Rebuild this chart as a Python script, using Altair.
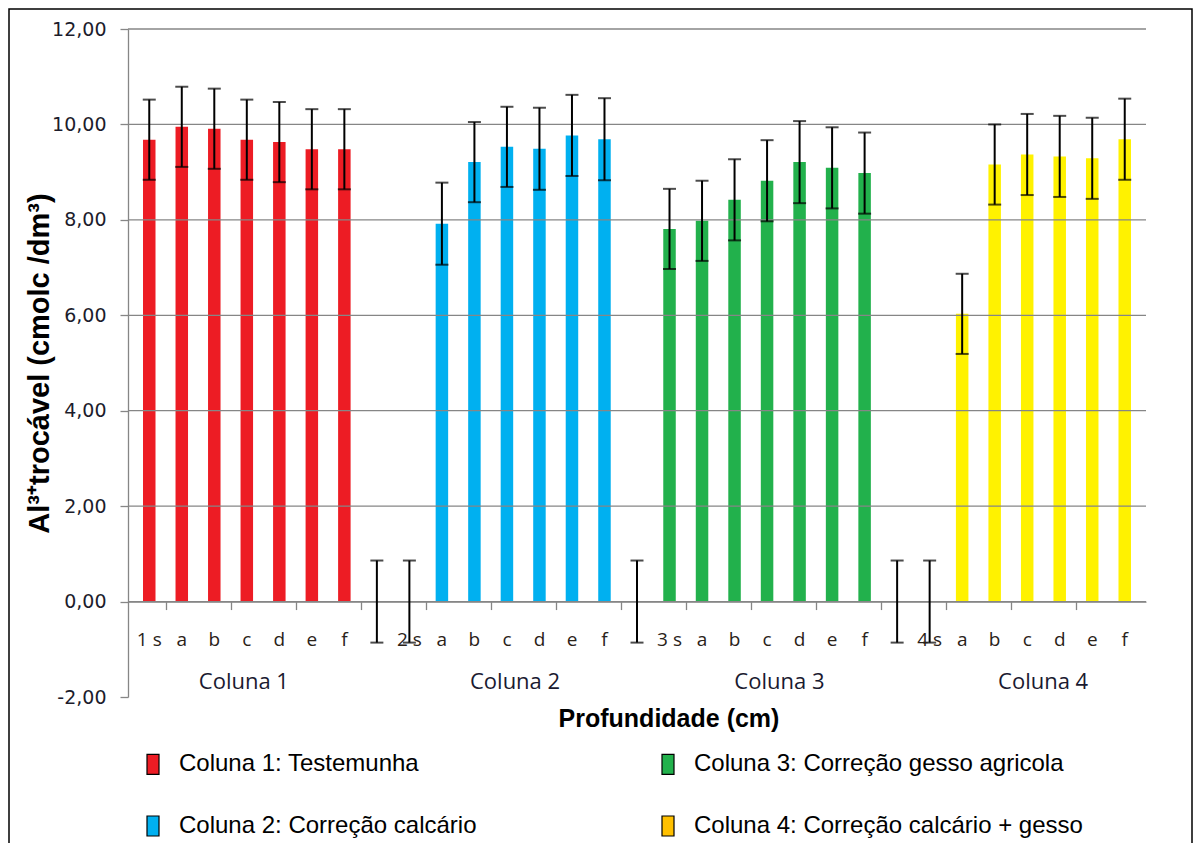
import altair as alt
import pandas as pd

# ---- data ----
cat_labels = ["1 s", "a", "b", "c", "d", "e", "f", "",
              "2 s", "a", "b", "c", "d", "e", "f", "",
              "3 s", "a", "b", "c", "d", "e", "f", "",
              "4 s", "a", "b", "c", "d", "e", "f"]
series = (["Coluna 1"] * 7 + ["", ""] + ["Coluna 2"] * 6 + [""] +
          ["Coluna 3"] * 7 + ["", ""] + ["Coluna 4"] * 6)
values = [9.68, 9.95, 9.91, 9.68, 9.63, 9.48, 9.48,
          0.0, 0.0,
          7.92, 9.21, 9.53, 9.49, 9.77, 9.69,
          0.0,
          7.81, 7.98, 8.42, 8.82, 9.21, 9.09, 8.98,
          0.0, 0.0,
          6.03, 9.16, 9.37, 9.33, 9.29, 9.69]
errors = [0.84, 0.84, 0.84, 0.84, 0.84, 0.84, 0.84,
          0.86, 0.86,
          0.86, 0.84, 0.84, 0.86, 0.85, 0.86,
          0.86,
          0.84, 0.84, 0.85, 0.85, 0.86, 0.85, 0.85,
          0.86, 0.86,
          0.84, 0.84, 0.85, 0.85, 0.85, 0.85]
group_names = ["Coluna 1", "Coluna 2", "Coluna 3", "Coluna 4"]
group_centers = [3.41, 11.75, 19.88, 27.99]
bar_colors = ["#ED1C24", "#00B0F0", "#22B14C", "#FFF200"]
legend_labels = ["Coluna 1: Testemunha", "Coluna 2: Correção calcário",
                 "Coluna 3: Correção gesso agricola", "Coluna 4: Correção calcário + gesso"]
legend_colors = ["#ED1C24", "#00B0F0", "#22B14C", "#FFC000"]
y_ticks = [-2, 0, 2, 4, 6, 8, 10, 12]
grid_vals = [0, 2, 4, 6, 8, 10, 12]

df = pd.DataFrame({
    "idx": list(range(len(values))),
    "label": cat_labels,
    "serie": series,
    "value": values,
    "err": errors,
})
df["pos"] = df["idx"] + 0.5
df["lo"] = df["value"] - df["err"]
df["hi"] = df["value"] + df["err"]

groups_df = pd.DataFrame({"g": group_names, "pos": group_centers})
legend_df = pd.DataFrame({"serie": legend_labels})
grid_df = pd.DataFrame({"g": grid_vals})

W, H = 1018, 668
GREY = "#868686"
xscale = alt.Scale(domain=[0, 31], nice=False, zero=False)
yscale = alt.Scale(domain=[-2, 12], nice=False, zero=False)

x_axis = alt.Axis(values=list(range(1, 31)), labels=False, ticks=True, tickSize=8,
                  tickColor=GREY, domainColor=GREY, domainWidth=1.3, tickWidth=1.3,
                  grid=False, offset=-95.43, title=None)
y_axis = alt.Axis(values=y_ticks, grid=False,
                  labelExpr="(datum.value < 0 ? '-' : '') + replace(format(abs(datum.value), '.2f'), '.', ',')",
                  labelFont="DejaVu Sans", labelFontSize=19, labelColor="#1c1c2c",
                  labelPadding=14, tickSize=8, tickColor=GREY, domainColor=GREY,
                  domainWidth=1.3, tickWidth=1.3,
                  title="Al³⁺trocável (cmolc /dm³)", titleFont="Liberation Sans",
                  titleFontSize=29, titleFontWeight="bold", titleColor="#000000",
                  titlePadding=-3)

bars = alt.Chart(df[df["serie"] != ""]).mark_bar(size=12.5).encode(
    x=alt.X("pos:Q", scale=xscale, axis=x_axis),
    y=alt.Y("value:Q", scale=yscale, axis=y_axis),
    fill=alt.Fill("serie:N", scale=alt.Scale(domain=group_names, range=bar_colors), legend=None),
)

grid = alt.Chart(grid_df).mark_rule(color=GREY, strokeWidth=1.3).encode(
    y=alt.Y("g:Q", scale=yscale),
    x=alt.value(0), x2=alt.value(W),
)

err_rule = alt.Chart(df).mark_rule(color="black", strokeWidth=2).encode(
    x=alt.X("pos:Q", scale=xscale),
    y=alt.Y("lo:Q", scale=yscale),
    y2="hi:Q",
)
cap_lo = alt.Chart(df).mark_tick(orient="horizontal", size=13, thickness=2, color="black").encode(
    x=alt.X("pos:Q", scale=xscale),
    y=alt.Y("lo:Q", scale=yscale),
)
cap_hi = alt.Chart(df).mark_tick(orient="horizontal", size=13, thickness=2, color="black").encode(
    x=alt.X("pos:Q", scale=xscale),
    y=alt.Y("hi:Q", scale=yscale),
)

cat_text = alt.Chart(df).mark_text(font="Open Sans", fontSize=19, color="#2a2218",
                                   baseline="middle", dy=38).encode(
    x=alt.X("pos:Q", scale=xscale),
    y=alt.datum(0),
    text="label:N",
)
group_text = alt.Chart(groups_df).mark_text(font="Open Sans", fontSize=22, color="#1a1a30",
                                            baseline="middle", dy=80).encode(
    x=alt.X("pos:Q", scale=xscale),
    y=alt.datum(0),
    text="g:N",
)
x_title = alt.Chart(pd.DataFrame({"t": ["Profundidade (cm)"]})).mark_text(
    font="Liberation Sans", fontSize=25, fontWeight="bold", color="#000000", baseline="middle"
).encode(x=alt.value(541), y=alt.value(H + 22), text="t:N")

legend_layer = alt.Chart(legend_df).mark_point(filled=True, opacity=0).encode(
    x=alt.value(0), y=alt.value(0),
    color=alt.Color("serie:N",
                    scale=alt.Scale(domain=legend_labels, range=legend_colors),
                    sort=None,
                    legend=alt.Legend(orient="none", legendX=4, legendY=714, columns=2,
                                      title=None, padding=0,
                                      symbolType="M-0.3,-0.5H0.3V0.5H-0.3Z", symbolSize=1600,
                                      symbolStrokeColor="black", symbolStrokeWidth=1.2,
                                      symbolOpacity=1, labelFont="Liberation Sans",
                                      labelFontSize=24, labelColor="#000000", labelOffset=5,
                                      labelLimit=600, rowPadding=28, columnPadding=170)),
)

frame = alt.Chart(pd.DataFrame({"f": [0]})).mark_rect(
    fill=None, filled=False, stroke="black", strokeWidth=1.5
).encode(x=alt.value(-119), x2=alt.value(W + 46), y=alt.value(-20), y2=alt.value(H + 300))

chart = alt.layer(
    bars, grid, err_rule, cap_lo, cap_hi, cat_text, group_text, x_title, legend_layer, frame
).resolve_scale(color="independent", fill="independent").properties(
    width=W, height=H,
    autosize=alt.AutoSizeParams(type="none"),
    padding={"left": 120, "top": 21, "right": 48, "bottom": 146},
).configure_view(stroke=None)

chart.save("out.html", embed_options={"renderer": "svg", "actions": False})
